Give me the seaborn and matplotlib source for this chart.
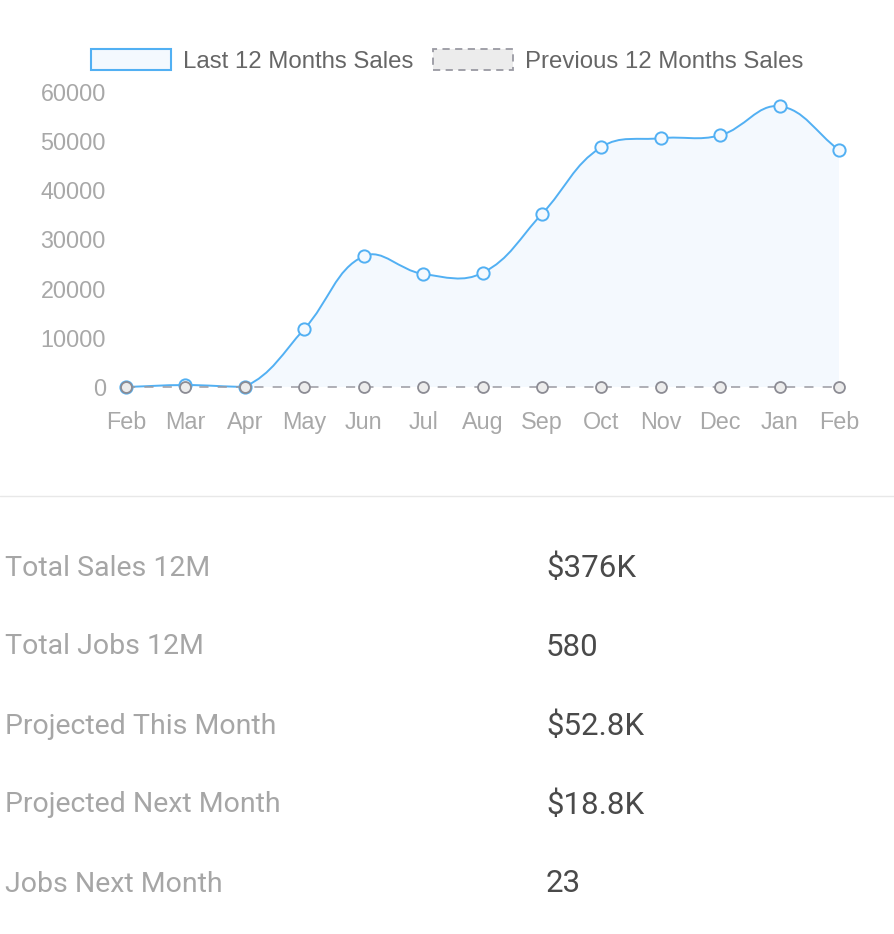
import numpy as np
import pandas as pd
import matplotlib
matplotlib.use("Agg")
import matplotlib.pyplot as plt
from matplotlib.path import Path
from matplotlib.patches import PathPatch, Patch
from matplotlib.lines import Line2D
import seaborn as sns

months = ["Feb", "Mar", "Apr", "May", "Jun", "Jul", "Aug", "Sep", "Oct", "Nov", "Dec", "Jan", "Feb"]
last_12 = [0, 400, 50, 11800, 26600, 23000, 23200, 35200, 48800, 50600, 51200, 57100, 48200]
prev_12 = [0, 0, 0, 0, 0, 0, 0, 0, 0, 0, 0, 0, 0]
series_names = ["Last 12 Months Sales", "Previous 12 Months Sales"]
y_ticks = [0, 10000, 20000, 30000, 40000, 50000, 60000]

stat_labels = ["Total Sales 12M", "Total Jobs 12M", "Projected This Month", "Projected Next Month", "Jobs Next Month"]
stat_values = ["$376K", "580", "$52.8K", "$18.8K", "23"]

BLUE = "#52B0F3"
BLUE_FILL = "#F4F9FE"
GRAY = "#9A9AA2"
GRAY_FILL = "#ECECEC"
TICK = "#A8A8A8"

sns.set_theme(style="white")
plt.rcParams["font.family"] = ["Liberation Sans", "DejaVu Sans"]

W, H = 894, 934
fig = plt.figure(figsize=(W / 100, H / 100), dpi=100)
ax = fig.add_axes([126 / W, 1 - 387 / H, (839 - 126) / W, (387 - 92) / H])

df = pd.DataFrame({"idx": np.arange(len(months)), "last": last_12, "prev": prev_12})
ax.set_xlim(0, len(months) - 1)
ax.set_ylim(0, 60000)

# smooth curve (Chart.js style bezier, tension 0.4) built in pixel space
pts = ax.transData.transform(np.column_stack([df["idx"], df["last"]]))
top_px = ax.transData.transform((0, 60000))[1]
bot_px = ax.transData.transform((0, 0))[1]
t = 0.4
ctrl_prev, ctrl_next = [], []
n = len(pts)
for i in range(n):
    p0 = pts[max(i - 1, 0)]
    p1 = pts[i]
    p2 = pts[min(i + 1, n - 1)]
    d01 = np.hypot(*(p1 - p0))
    d12 = np.hypot(*(p2 - p1))
    s01 = d01 / (d01 + d12) if d01 + d12 else 0
    s12 = d12 / (d01 + d12) if d01 + d12 else 0
    cp = p1 - t * s01 * (p2 - p0)
    cn = p1 + t * s12 * (p2 - p0)
    cp[1] = min(max(cp[1], bot_px), top_px)
    cn[1] = min(max(cn[1], bot_px), top_px)
    ctrl_prev.append(cp)
    ctrl_next.append(cn)

verts = [pts[0]]
codes = [Path.MOVETO]
for i in range(1, n):
    verts += [ctrl_next[i - 1], ctrl_prev[i], pts[i]]
    codes += [Path.CURVE4] * 3
inv = ax.transData.inverted()
verts_d = inv.transform(np.array(verts))

fill_verts = np.vstack([verts_d, [[df["idx"].iloc[-1], 0], [0, 0], [0, 0]]])
fill_codes = codes + [Path.LINETO, Path.LINETO, Path.CLOSEPOLY]
ax.add_patch(PathPatch(Path(fill_verts, fill_codes), facecolor=BLUE_FILL, edgecolor="none", zorder=1))
ax.add_patch(PathPatch(Path(verts_d, codes), facecolor="none", edgecolor=BLUE, lw=1.4, zorder=3, clip_on=False))

sns.scatterplot(data=df, x="idx", y="last", ax=ax, s=78, marker="o", facecolor=BLUE_FILL,
                edgecolor=BLUE, linewidth=1.4, zorder=4, clip_on=False)
sns.lineplot(data=df, x="idx", y="prev", ax=ax, color=GRAY, lw=1.1, dashes=False, zorder=5, clip_on=False)
ax.lines[-1].set_dashes((6, 6))
sns.scatterplot(data=df, x="idx", y="prev", ax=ax, s=62, marker="o", facecolor=GRAY_FILL,
                edgecolor="#8C8C94", linewidth=1.3, zorder=6, clip_on=False)

ax.set_xticks(df["idx"])
ax.set_xticklabels(months)
ax.set_yticks(y_ticks)
ax.set_yticklabels([str(v) for v in y_ticks])
ax.tick_params(axis="both", length=0, labelsize=16.8, colors=TICK)
ax.tick_params(axis="y", pad=14.5)
ax.tick_params(axis="x", pad=17)
ax.set_xlabel("")
ax.set_ylabel("")
for s in ax.spines.values():
    s.set_visible(False)
ax.patch.set_alpha(0)

handles = [
    Patch(facecolor=BLUE_FILL, edgecolor=BLUE, linewidth=1.5),
    Patch(facecolor=GRAY_FILL, edgecolor=GRAY, linewidth=1.3, linestyle=(0, (4, 3))),
]
fig.legend(handles, series_names, loc="center", bbox_to_anchor=(447 / W, 1 - 61 / H), ncol=2,
           frameon=False, fontsize=17.3, labelcolor="#666666", handlelength=3.35, handleheight=0.92,
           handletextpad=0.48, columnspacing=0.8, borderpad=0, borderaxespad=0)

fig.add_artist(Line2D([0, 1], [1 - 496 / H] * 2, transform=fig.transFigure, color="#E8E8E8", lw=1))

ys = [568, 647, 726, 805, 884]
for y, lab, val in zip(ys, stat_labels, stat_values):
    fig.text(5 / W, 1 - y / H, lab, ha="left", va="center", fontsize=20.5, color="#A6A6A6",
             family=["Roboto", "DejaVu Sans"])
    fig.text(546 / W, 1 - y / H, val, ha="left", va="center", fontsize=22.5, color="#4A4A4A",
             family=["Roboto", "DejaVu Sans"])

fig.savefig("out.png", dpi=100)
